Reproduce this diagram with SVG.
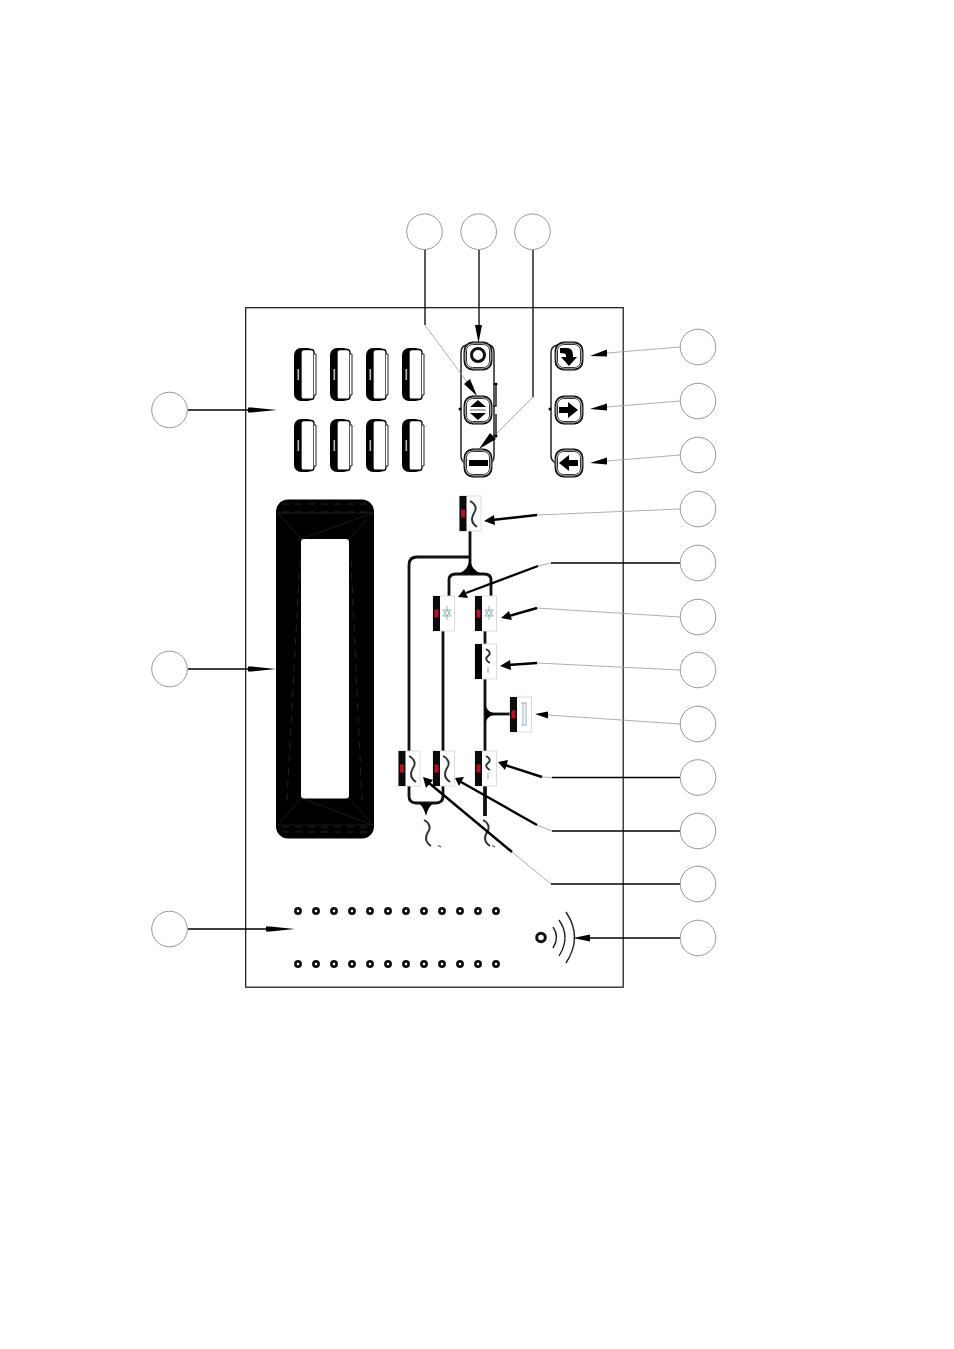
<svg xmlns="http://www.w3.org/2000/svg" xmlns:xlink="http://www.w3.org/1999/xlink" width="954" height="1349" viewBox="0 0 954 1349">
<style>
.bubble{fill:#fff;stroke:#8c8c8c;stroke-width:.9}
.thin{fill:none;stroke:#999;stroke-width:.8}
.dark{fill:none;stroke:#000;stroke-width:1.3}
.thick{fill:none;stroke:#000;stroke-width:2.4}
.head{fill:#000;stroke:none}
.bus{fill:none;stroke:#111;stroke-width:2.8}
.rail{fill:none;stroke:#222;stroke-width:1.5}
.wave{fill:none;stroke:#2c3434;stroke-width:1.9}
.hole{fill:#fff;stroke:#111;stroke-width:2.7}
.fleck{fill:none;stroke:#3a3a3a;stroke-width:.6;stroke-dasharray:7 6}
</style>
<defs>
<g id="key">
<rect x="0" y="0" width="20" height="53" rx="7" fill="#000"/>
<rect x="7" y="1.500" width="13" height="50" rx="3" fill="#fff" stroke="#000" stroke-width="1.300"/>
<path d="M20 6H22V47H20" fill="#fff" stroke="#222" stroke-width="1"/>
<rect x="3.500" y="21" width="1.600" height="11" fill="#bbb"/>
<path d="M9 50.500H17" stroke="#777" stroke-width="1"/>
</g>
<g id="btn">
<rect x="-13.500" y="-13.500" width="27" height="27" rx="8" fill="#fff" stroke="#111" stroke-width="1.800"/>
<rect x="-11.500" y="-11.500" width="23" height="23" rx="6" fill="#fff" stroke="#333" stroke-width="1"/>
<path d="M-5-14H5M-5 14H5M-14-4V4M14-4V4" stroke="#777" stroke-width="1"/>
</g>
<g id="mod">
<rect x="0" y="0" width="21.500" height="35" fill="#fff" stroke="#d8d8d8" stroke-width=".9"/>
<rect x="0" y="0" width="7" height="35" fill="#0c0c0c"/>
<rect x="1.500" y="13.500" width="4" height="8" fill="#b5102a"/>
</g>
<path id="tilde" class="wave" d="M-3 0C3 3 4 8 1 12C-2 17-2 22 4 26"/>
<path id="tilde-s" class="wave" d="M-2 0C2 2 3 5 0 7C-3 9-2 12 2 14"/>
<g id="lamp" fill="none" stroke="#7aa" stroke-width=".8">
<path d="M-4-3H4L0 3ZM-4 3H4L0-3Z"/><path d="M0-7V-3M0 3V7" stroke="#999"/>
</g>
</defs>
<rect width="954" height="1349" fill="#fff"/>
<rect id="frame" x="245.700" y="307.700" width="377.500" height="679.500" fill="none" stroke="#111" stroke-width="1.200"/>

<g id="bus-wiring">
<path class="bus" d="M470 531V557M470 557H417Q409 557 409 565V751M409 786V796Q409 803 416 803H436Q443 803 443 796V786"/>
<path class="bus" d="M470 557V574M456 574H484Q491 574 491 580V596M456 574Q449 574 449 580V596"/>
<path class="bus" d="M443 631V751M485 631V644M485 679V751"/>
<path class="bus" d="M485 714H510"/>
<path d="M485 786V816" fill="none" stroke="#111" stroke-width="3.800"/>
<path class="head" d="M470 556C470 566 474 571 482 574H458C466 571 469 566 470 556Z"/>
<path class="head" d="M485 703C486 710 490 713 498 714C490 715 486 718 485 725Z"/>
<path class="head" d="M418 803H434C430 805 428 809 426 816C424 809 422 805 418 803Z"/>
</g>

<g id="keys">
<use href="#key" x="294" y="348"/><use href="#key" x="330" y="348"/><use href="#key" x="366" y="348"/><use href="#key" x="402" y="348"/>
<use href="#key" x="294" y="419"/><use href="#key" x="330" y="419"/><use href="#key" x="366" y="419"/><use href="#key" x="402" y="419"/>
</g>

<g id="display">
<rect x="276" y="499.500" width="98" height="339" rx="12" fill="#000"/>
<rect x="301" y="539" width="48" height="259.500" rx="3" fill="#fff"/>
<path class="fleck" d="M282 504H368M282 512H368M282 832H368M282 827H368M300 560L287 800M351 560L362 800"/>
<path d="M278 513L301 539M373 513L349 539M301 539L373 513M278 825L301 798M373 825L349 798M301 798L373 825M276.500 513H374M276.500 825H374" fill="none" stroke="#333" stroke-width=".5"/>
</g>

<g id="rails">
<path class="rail" d="M466 345Q461 347 461 352V456Q461 461 466 464"/>
<path class="rail" d="M490 345Q494 347 494 352V456Q494 461 490 464"/>
<path class="rail" d="M496 384V406H493M496 414V436H493M496 384H493"/>
<circle cx="496" cy="384" r="1.500"/><circle cx="496" cy="436" r="1.500"/><circle cx="460" cy="409" r="1.500"/>
<path class="rail" d="M557 345Q551 347 551 352V456Q551 461 557 464"/>
<circle cx="550" cy="409" r="1.500"/>
</g>

<g id="btn-power"><use href="#btn" x="478" y="356"/><circle cx="478" cy="355" r="6.500" fill="#fff" stroke="#111" stroke-width="3"/></g>
<g id="btn-updown"><use href="#btn" x="478" y="410"/><path d="M470 407L478 400L486 407ZM470 413L478 420L486 413Z" fill="#000"/><path d="M470 410H486" stroke="#999" stroke-width="1.500"/></g>
<g id="btn-minus"><use href="#btn" x="478" y="463"/><rect x="469" y="460" width="19" height="6" fill="#000"/></g>
<g id="btn-enter"><use href="#btn" x="569" y="356"/><path d="M560 348H568Q573 349 573 355V357H577L569 366L561 357H566V355Q566 353 560 353Z" fill="#000"/></g>
<g id="btn-right"><use href="#btn" x="569" y="410"/><path d="M559 407H568V402L578 410L568 418V413H559Z" fill="#000"/></g>
<g id="btn-left"><use href="#btn" x="569" y="463"/><path d="M578 460H569V455L559 463L569 471V466H578Z" fill="#000"/></g>

<g id="mod-top"><use href="#mod" x="459.500" y="496"/><use href="#tilde" x="473" y="501"/></g>
<g id="mod-lamp-l"><use href="#mod" x="433" y="596"/><use href="#lamp" x="447" y="613"/></g>
<g id="mod-lamp-r"><use href="#mod" x="475" y="596"/><use href="#lamp" x="489" y="613"/></g>
<g id="mod-ac"><use href="#mod" x="475" y="644"/><rect x="475" y="644" width="7" height="35" fill="#000"/><use href="#tilde-s" x="488" y="649"/><path d="M488 667V673" stroke="#999"/></g>
<g id="mod-side"><use href="#mod" x="510" y="697"/><path d="M521 703H527M521 725H527M523 703V725M526 703V725" fill="none" stroke="#8ab" stroke-width=".9"/></g>
<g id="mod-b1"><use href="#mod" x="398.500" y="751"/><use href="#tilde" x="412" y="756"/></g>
<g id="mod-b2"><use href="#mod" x="433" y="751"/><use href="#tilde" x="446" y="756"/></g>
<g id="mod-b3"><use href="#mod" x="475" y="751"/><use href="#tilde-s" x="488" y="756"/><path d="M488 773V779" stroke="#999"/></g>
<g id="output-waves">
<use href="#tilde" x="427" y="820"/><use href="#tilde" x="486" y="820"/>
<path d="M438 845.500L441 847M492 845.500L495 847" stroke="#222"/>
</g>

<g id="terminals">
<circle class="hole" cx="298" cy="911" r="2.600"/><circle class="hole" cx="316" cy="911" r="2.600"/><circle class="hole" cx="334" cy="911" r="2.600"/><circle class="hole" cx="352" cy="911" r="2.600"/><circle class="hole" cx="370" cy="911" r="2.600"/><circle class="hole" cx="388" cy="911" r="2.600"/><circle class="hole" cx="406" cy="911" r="2.600"/><circle class="hole" cx="424" cy="911" r="2.600"/><circle class="hole" cx="442" cy="911" r="2.600"/><circle class="hole" cx="460" cy="911" r="2.600"/><circle class="hole" cx="478" cy="911" r="2.600"/><circle class="hole" cx="496" cy="911" r="2.600"/>
<circle class="hole" cx="298" cy="964" r="2.600"/><circle class="hole" cx="316" cy="964" r="2.600"/><circle class="hole" cx="334" cy="964" r="2.600"/><circle class="hole" cx="352" cy="964" r="2.600"/><circle class="hole" cx="370" cy="964" r="2.600"/><circle class="hole" cx="388" cy="964" r="2.600"/><circle class="hole" cx="406" cy="964" r="2.600"/><circle class="hole" cx="424" cy="964" r="2.600"/><circle class="hole" cx="442" cy="964" r="2.600"/><circle class="hole" cx="460" cy="964" r="2.600"/><circle class="hole" cx="478" cy="964" r="2.600"/><circle class="hole" cx="496" cy="964" r="2.600"/>
</g>
<g id="buzzer">
<circle cx="541" cy="937.500" r="4.300" fill="#fff" stroke="#111" stroke-width="3"/>
<path d="M553 927Q560 937 553 948M559 920Q571 937 559 956M566 912Q583 937 566 963" fill="none" stroke="#222" stroke-width="1.400"/>
</g>

<g id="connectors">
<path class="dark" d="M425 250V325"/><path class="thin" d="M425 325L467 382"/><path class="head" d="M464 384L470 379L477 396Z"/>
<path class="dark" d="M479 250V325"/><path class="head" d="M475 325H482L478.500 343Z"/>
<path class="dark" d="M533 250V397"/><path class="thin" d="M533 397L497 433"/><path class="head" d="M490 433L496 439L479 449Z"/>
<path class="thin" d="M680 347L607 353"/><path class="head" d="M607 349.500L607 356.500L590 356Z"/>
<path class="thin" d="M680 401L607 407"/><path class="head" d="M607 403.500L607 410.500L590 409Z"/>
<path class="thin" d="M680 455L607 461"/><path class="head" d="M607 457.500L607 464.500L590 463Z"/>
<path class="thin" d="M680 509L537 515"/><path class="thick" d="M537 515L492 520"/><path class="head" d="M494 515L495 525L484 521Z"/>
<path class="dark" d="M680 563H551"/><path class="thin" d="M551 563L538 566"/><path class="thick" d="M538 566L466 593"/><path class="head" d="M464 589L468 598L458 597Z"/>
<path class="thin" d="M680 617L537 608"/><path class="thick" d="M537 608L509 616"/><path class="head" d="M509 611L512 620L501 618Z"/>
<path class="thin" d="M680 670L537 663"/><path class="thick" d="M537 663L508 665"/><path class="head" d="M510 660L511 670L500 666Z"/>
<path class="thin" d="M680 724L548 715"/><path class="head" d="M548 711.500L548 718.500L535 714Z"/>
<path class="dark" d="M680 777.500H552"/><path class="thin" d="M552 777.500L542 777"/><path class="thick" d="M542 777L505 765"/><path class="head" d="M508 760L505 770L498 762Z"/>
<path class="dark" d="M680 831H552"/><path class="thin" d="M552 831L537 825"/><path class="thick" d="M537 825L461 782"/><path class="head" d="M464 777L459 786L455 778Z"/>
<path class="dark" d="M680 884H551"/><path class="thin" d="M551 884L512 852"/><path class="thick" d="M512 852L429 783"/><path class="head" d="M433 780L426 788L423 777Z"/>
<path class="dark" d="M188 410H248"/><path class="head" d="M248 407.500H252L277 410L252 412.500H248Z"/>
<path class="dark" d="M188 669H248"/><path class="head" d="M248 666.500H252L276 669L252 671.500H248Z"/>
<path class="dark" d="M188 929H266"/><path class="head" d="M266 926.500H270L295 929L270 931.500H266Z"/>
<path class="dark" d="M680 938H590"/><path class="head" d="M590 934.500V941.500L573 938Z"/>
</g>

<g id="callouts">
<circle id="c1" class="bubble" cx="424.500" cy="231.700" r="17.800"/><circle id="c2" class="bubble" cx="478.700" cy="231.700" r="17.800"/><circle id="c3" class="bubble" cx="532.500" cy="231.700" r="17.800"/>
<circle id="c4" class="bubble" cx="698" cy="347" r="17.800"/><circle id="c5" class="bubble" cx="698" cy="401" r="17.800"/><circle id="c6" class="bubble" cx="698" cy="455" r="17.800"/><circle id="c7" class="bubble" cx="698" cy="509" r="17.800"/><circle id="c8" class="bubble" cx="698" cy="563" r="17.800"/><circle id="c9" class="bubble" cx="698" cy="617" r="17.800"/><circle id="c10" class="bubble" cx="698" cy="670" r="17.800"/><circle id="c11" class="bubble" cx="698" cy="724" r="17.800"/><circle id="c12" class="bubble" cx="698" cy="777.500" r="17.800"/><circle id="c13" class="bubble" cx="698" cy="831" r="17.800"/><circle id="c14" class="bubble" cx="698" cy="884" r="17.800"/><circle id="c15" class="bubble" cx="698" cy="938" r="17.800"/>
<circle id="c16" class="bubble" cx="169.500" cy="410" r="17.800"/><circle id="c17" class="bubble" cx="169.500" cy="669" r="17.800"/><circle id="c18" class="bubble" cx="169.500" cy="929" r="17.800"/>
</g>
</svg>
